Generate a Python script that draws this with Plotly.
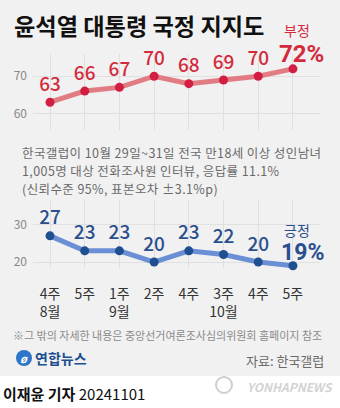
import plotly.graph_objects as go

# Weekly approval survey (Gallup Korea)
weeks = ["4주<br>8월", "5주", "1주<br>9월", "2주", "4주", "3주<br>10월", "4주", "5주"]
negative = [63, 66, 67, 70, 68, 69, 70, 72]
positive = [27, 23, 23, 20, 23, 22, 20, 19]
neg_ticks = [60, 70]
pos_ticks = [20, 30]

W, H = 340, 408
FONT = "Noto Sans CJK KR"
NUM_FONT = "Roboto"
RED_LINE, RED_DOT, RED_TXT = "#e27c83", "#d21e42", "#d42a3c"
BLU_LINE, BLU_DOT, BLU_TXT = "#6b8fd4", "#1d4f91", "#2a4f8f"
GRID = "#e0e0e0"
BG = "#f1f1f1"


def px(x):
    return x / W


def py(y):
    return 1 - y / H


xs = list(range(len(weeks)))

fig = go.Figure()
fig.add_trace(go.Scatter(
    x=xs, y=negative, xaxis="x", yaxis="y",
    mode="lines+markers+text",
    line=dict(color=RED_LINE, width=5),
    marker=dict(color=RED_DOT, size=9),
    text=[str(v) for v in negative[:-1]] + [""],
    textposition="top center",
    textfont=dict(family=FONT, size=19, color=RED_TXT, weight=500),
    cliponaxis=False, hoverinfo="skip",
))
fig.add_trace(go.Scatter(
    x=xs, y=positive, xaxis="x2", yaxis="y2",
    mode="lines+markers+text",
    line=dict(color=BLU_LINE, width=5),
    marker=dict(color=BLU_DOT, size=9),
    text=[str(v) for v in positive[:-1]] + [""],
    textposition="top center",
    textfont=dict(family=FONT, size=19, color=BLU_TXT, weight=500),
    cliponaxis=False, hoverinfo="skip",
))

x_range = [-0.49, 7.78]
x_dom = [px(33), px(320)]
common_x = dict(range=x_range, domain=x_dom, tickvals=xs, showgrid=True,
                gridcolor=GRID, gridwidth=1, zeroline=False, showline=False,
                ticks="", fixedrange=True)
common_y = dict(showgrid=True, gridcolor=GRID, gridwidth=1, zeroline=False,
                showline=False, ticks="", fixedrange=True,
                tickfont=dict(family=FONT, size=12, color="#888888"),
                ticklabelstandoff=5)

fig.update_layout(
    width=W, height=H,
    margin=dict(l=0, r=0, t=0, b=0),
    paper_bgcolor=BG, plot_bgcolor="rgba(0,0,0,0)",
    showlegend=False,
    font=dict(family=FONT),
    xaxis=dict(common_x, anchor="y", showticklabels=False),
    yaxis=dict(common_y, range=[55.5, 76], domain=[py(130), py(54)],
               tickvals=neg_ticks, anchor="x"),
    xaxis2=dict(common_x, anchor="y2", ticktext=weeks, showticklabels=True,
                tickfont=dict(family=FONT, size=14, color="#333333"),
                ticklabelstandoff=16),
    yaxis2=dict(common_y, range=[18.4, 36.6], domain=[py(268), py(200)],
                tickvals=pos_ticks, anchor="x2"),
)


def note(x, y, text, size, color="#333333", xanchor="left", family=FONT):
    fig.add_annotation(x=px(x), y=py(y), xref="paper", yref="paper",
                       text=text, showarrow=False, xanchor=xanchor,
                       yanchor="middle", borderpad=0,
                       font=dict(family=family, size=size, color=color))


# title
note(13, 25, "<b>윤석열 대통령 국정 지지도</b>", 23.2, "#111111")

# series callouts: caption above the latest value
note(297, 30, "부정", 14, RED_TXT, "center")
note(301, 54, f"<b>{negative[-1]}%</b>", 24, RED_TXT, "center", NUM_FONT)
note(297, 230, "긍정", 14, BLU_TXT, "center")
note(302, 252, f"<b>{positive[-1]}%</b>", 23, BLU_TXT, "center", NUM_FONT)

# survey description
desc = [
    "한국갤럽이 10월 29일~31일 전국 만18세 이상 성인남녀",
    "1,005명 대상 전화조사원 인터뷰, 응답률 11.1%",
    "(신뢰수준 95%, 표본오차 ±3.1%p)",
]
for i, line in enumerate(desc):
    note(21, 152 + 18.2 * i,
         f"<span style='letter-spacing:0.4px'>{line}</span>", 12.5, "#6a6a6a")

# footer
note(167, 335, "※그 밖의 자세한 내용은 중앙선거여론조사심의위원회 홈페이지 참조",
     11, "#8a8a8a", "center")
note(325, 360, "자료: 한국갤럽", 13, "#6a6a6a", "right")

# logo
fig.add_shape(type="circle", xref="paper", yref="paper",
              x0=px(16), x1=px(32), y0=py(366), y1=py(350),
              fillcolor="#2e74c9", line=dict(color="#2e74c9", width=0))
note(24, 358, "<i><b>ø</b></i>", 11, "white", "center")
note(34, 358, "<b>연합뉴스</b>", 14, "#1d4f91")

# bottom byline strip
fig.add_shape(type="rect", xref="paper", yref="paper",
              x0=0, x1=1, y0=0, y1=py(376),
              fillcolor="white", line=dict(width=0), layer="below")
note(2, 393, "<b>이재윤 기자</b> 20241101", 15, "#111111")
fig.add_shape(type="circle", xref="paper", yref="paper",
              x0=px(216), x1=px(232), y0=py(393), y1=py(377),
              fillcolor="rgba(0,0,0,0)", line=dict(color="#cfcfcf", width=2))
note(334, 386, "<b><i>YONHAPNEWS</i></b>", 12, "#d3d3d3", "right")

fig.write_html("out.html")
